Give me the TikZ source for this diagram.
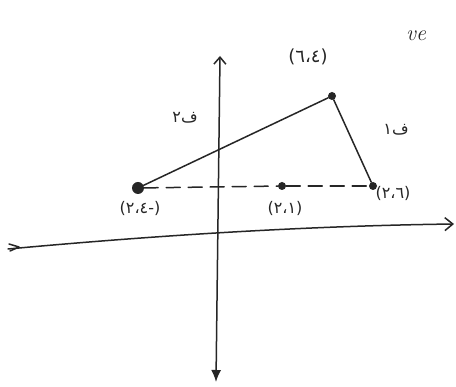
\documentclass[tikz,border=0pt]{standalone}
\usepackage{fontspec}
\newfontfamily\arfont{DejaVu Sans}
\usetikzlibrary{arrows.meta}
\begin{document}
\begin{tikzpicture}[x=1pt,y=-1pt,
  stroke/.style={line width=1.5pt,black!85,line cap=round,line join=round},
  dotnode/.style={circle,fill=black!85,inner sep=0pt,minimum size=#1},
  lbl/.style={font=\arfont\fontsize{16}{16}\selectfont,text=black!85,inner sep=0pt}]
\useasboundingbox (0,0) rectangle (456,387);
\fill[white] (0,0) rectangle (456,387);
% axes
\coordinate (ytop) at (220,56);
\coordinate (ybot) at (216,382);
\coordinate (xl) at (8,249);
\coordinate (xr) at (454,224);
\draw[stroke,{Latex[length=12pt,width=10pt]}-{Straight Barb[length=7pt,width=12pt]}] (ybot) -- (ytop);
\draw[stroke,-{Straight Barb[length=8pt,width=13pt]}] (xl) .. controls (150,236) and (300,226) .. (xr);
\draw[stroke] (9,244) -- (19,247) -- (10,251);
% points
\node[dotnode=12pt] (A) at (138,188) {};
\node[dotnode=8pt] (B) at (282,186) {};
\node[dotnode=8pt] (C) at (373,186) {};
\node[dotnode=8pt] (T) at (332,96) {};
\draw[stroke] (A) -- (T);
\draw[stroke] (T) -- (C);
\draw[stroke,dash pattern=on 14pt off 8pt] (A) -- (B);
\draw[stroke,dash pattern=on 14pt off 8pt] (B) -- (C);
% labels
\node[lbl] (lA) at (140,208) {(٢،٤-)};
\node[lbl] (lB) at (285,208) {(٢،١)};
\node[lbl] (lC) at (393,193) {(٢،٦)};
\node[lbl,font=\arfont\fontsize{18}{18}\selectfont] (lT) at (308,57) {(٦،٤)};
\node[lbl] (f2) at (185,118) {\hbox{٢}\hbox{ف}};
\node[lbl] (f1) at (396,130) {\hbox{١}\hbox{ف}};
\node[font=\itshape\fontsize{22}{22}\selectfont,text=black!85,anchor=west,inner sep=0pt] (ve) at (406,36) {ve};
\end{tikzpicture}
\end{document}
